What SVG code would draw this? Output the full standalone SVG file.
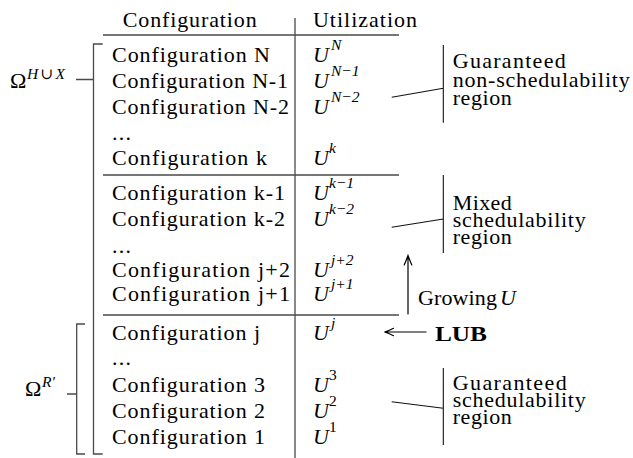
<svg xmlns="http://www.w3.org/2000/svg" width="633" height="458" viewBox="0 0 633 458" font-family="'Liberation Serif', 'DejaVu Serif', serif">
  <style>
    .t { font-size: 22px; fill: #000; }
    .it { font-style: italic; }
    .s { font-size: 15.5px; }
    .b { font-weight: bold; }
    .rule { stroke: #4a4a4a; stroke-width: 1.3; fill: none; }
    .ann { stroke: #111; stroke-width: 1.1; fill: none; }
    .arw { stroke: #000; stroke-width: 1.2; fill: none; stroke-linecap: round; }
  </style>
  <rect width="633" height="458" fill="#fff"/>

  <!-- table header -->
  <g id="header">
    <text class="t" x="122.7" y="27" textLength="134" lengthAdjust="spacing">Configuration</text>
    <text class="t" x="313" y="27" textLength="104" lengthAdjust="spacing">Utilization</text>
  </g>

  <!-- configuration names -->
  <g id="configs">
    <text class="t" x="112" y="62" textLength="158" lengthAdjust="spacing">Configuration N</text>
    <text class="t" x="112" y="88" textLength="176" lengthAdjust="spacing">Configuration N-1</text>
    <text class="t" x="112" y="113.6" textLength="177" lengthAdjust="spacing">Configuration N-2</text>
    <text class="t" x="112" y="139.5" letter-spacing="1.3">...</text>
    <text class="t" x="112" y="165" textLength="155" lengthAdjust="spacing">Configuration k</text>
    <text class="t" x="112" y="200" textLength="173" lengthAdjust="spacing">Configuration k-1</text>
    <text class="t" x="112" y="226" textLength="173" lengthAdjust="spacing">Configuration k-2</text>
    <text class="t" x="112" y="252.5" letter-spacing="1.3">...</text>
    <text class="t" x="112" y="276.5" textLength="178" lengthAdjust="spacing">Configuration j+2</text>
    <text class="t" x="112" y="301" textLength="178" lengthAdjust="spacing">Configuration j+1</text>
    <text class="t" x="112" y="340" textLength="148" lengthAdjust="spacing">Configuration j</text>
    <text class="t" x="112" y="365" letter-spacing="1.3">...</text>
    <text class="t" x="112" y="392" textLength="153" lengthAdjust="spacing">Configuration 3</text>
    <text class="t" x="112" y="418" textLength="153" lengthAdjust="spacing">Configuration 2</text>
    <text class="t" x="112" y="443.5" textLength="153" lengthAdjust="spacing">Configuration 1</text>
  </g>

  <!-- utilization values -->
  <g id="utilizations">
    <text class="t it" x="313" y="62">U</text>
    <text class="t it s" x="331" y="50">N</text>
    <text class="t it" x="313" y="88">U</text>
    <text class="t it s" x="331" y="76">N−1</text>
    <text class="t it" x="313" y="113.6">U</text>
    <text class="t it s" x="331" y="101.6">N−2</text>
    <text class="t it" x="313" y="165">U</text>
    <text class="t it s" x="329" y="153">k</text>
    <text class="t it" x="313" y="200">U</text>
    <text class="t it s" x="329" y="188">k−1</text>
    <text class="t it" x="313" y="226">U</text>
    <text class="t it s" x="329" y="214">k−2</text>
    <text class="t it" x="313" y="276.5">U</text>
    <text class="t it s" x="331" y="264.5">j+2</text>
    <text class="t it" x="313" y="301">U</text>
    <text class="t it s" x="331" y="289">j+1</text>
    <text class="t it" x="313" y="340">U</text>
    <text class="t it s" x="331" y="328">j</text>
    <text class="t it" x="313" y="392">U</text>
    <text class="t s" x="329" y="380">3</text>
    <text class="t it" x="313" y="418">U</text>
    <text class="t s" x="329" y="406">2</text>
    <text class="t it" x="313" y="443.5">U</text>
    <text class="t s" x="329" y="431.5">1</text>
  </g>

  <!-- set labels -->
  <g id="omega-hx">
    <text class="t" x="10" y="88">Ω</text>
    <text class="t it s" x="27" y="79" textLength="38" lengthAdjust="spacing">H∪X</text>
  </g>
  <g id="omega-r">
    <text class="t" x="25" y="396">Ω</text>
    <text class="t it s" x="42" y="387">R′</text>
  </g>

  <!-- region notes -->
  <g id="region-nonsched">
    <text class="t" x="452.7" y="68" textLength="113" lengthAdjust="spacing">Guaranteed</text>
    <text class="t" x="452.7" y="86.5" textLength="177" lengthAdjust="spacing">non-schedulability</text>
    <text class="t" x="452.7" y="105" textLength="59" lengthAdjust="spacing">region</text>
  </g>
  <g id="region-mixed">
    <text class="t" x="452.7" y="210" textLength="59" lengthAdjust="spacing">Mixed</text>
    <text class="t" x="452.7" y="227" textLength="133" lengthAdjust="spacing">schedulability</text>
    <text class="t" x="452.7" y="244" textLength="59" lengthAdjust="spacing">region</text>
  </g>
  <g id="region-sched">
    <text class="t" x="452.7" y="390" textLength="114" lengthAdjust="spacing">Guaranteed</text>
    <text class="t" x="452.7" y="407" textLength="133" lengthAdjust="spacing">schedulability</text>
    <text class="t" x="452.7" y="424" textLength="59" lengthAdjust="spacing">region</text>
  </g>
  <g id="growing">
    <text class="t" x="418" y="305" textLength="79" lengthAdjust="spacing">Growing</text>
    <text class="t it" x="500" y="305">U</text>
  </g>
  <g id="lub">
    <text class="t b" x="435" y="341" textLength="52" lengthAdjust="spacingAndGlyphs">LUB</text>
  </g>

  <!-- rules, brackets and arrows -->
  <g id="connectors">
    <path class="rule" d="M295,18 V458"/>
    <path class="rule" d="M103,35 H399 M103,175 H399 M103,315 H399"/>
    <path class="rule" d="M102.7,44 H93.5 V454 H102.7 M76,79.5 H93.5"/>
    <path class="rule" d="M85,324 H76.7 V454 H85 M67,394 H76.7"/>
    <path class="ann" d="M443.3,45 V122.7 M391.7,97.3 L443.3,88.3"/>
    <path class="ann" d="M443.3,175 V253 M391.7,227.3 L443.3,219"/>
    <path class="ann" d="M443.3,368 V445 M391.7,401.7 L443.3,408.3"/>
    <path class="arw" d="M408,314 V256 M404.2,265 Q406.6,259.5 408,255.5 Q409.4,259.5 411.8,265"/>
    <path class="arw" d="M426,332 H385 M393.5,328.3 Q388.5,331 384.5,332 Q388.5,333 393.5,335.7" stroke-width="1.5"/>
  </g>
</svg>
